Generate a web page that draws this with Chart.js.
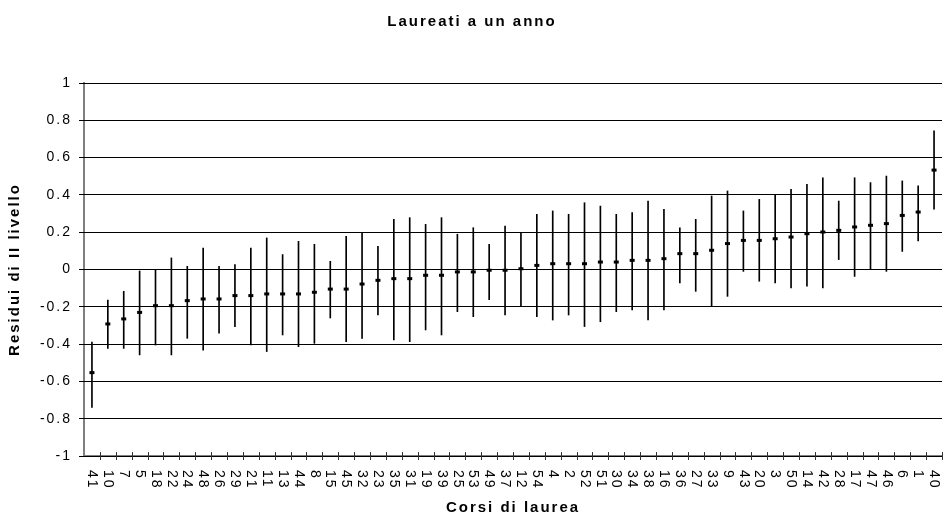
<!DOCTYPE html>
<html>
<head>
<meta charset="utf-8">
<script src="https://cdn.jsdelivr.net/npm/chart.js@4/dist/chart.umd.min.js"></script>
<style>
  body { margin: 0; background: #fff; }
  #wrap { width: 944px; height: 517px; position: relative; }
  #title {
    position: absolute; left: 0; top: 12px; width: 944px;
    text-align: center; font: bold 15px/18px "Liberation Sans", Arial, sans-serif;
    letter-spacing: 2px; color: #000;
  }
</style>
</head>
<body>
<div id="wrap"><canvas id="chart"></canvas><div id="title">Laureati a un anno</div></div>
<script>
// corsi di laurea, ordered by estimated residual
const categories = ["41","10","7","5","18","22","24","48","26","29","21","11","13","44","8","15","45","32",
  "23","35","31","19","39","25","53","49","37","12","54","4","2","52","51","30","34","38",
  "16","36","27","33","9","43","20","3","50","14","42","28","17","47","46","6","1","40"];

// level-2 residuals (point estimates)
const residuals = [-0.553,-0.292,-0.265,-0.230,-0.194,-0.194,-0.167,-0.158,-0.158,-0.140,-0.140,-0.131,-0.131,-0.131,-0.122,-0.105,-0.105,-0.078,
  -0.058,-0.049,-0.049,-0.031,-0.031,-0.013,-0.013,-0.004,-0.004,0.004,0.022,0.031,0.031,0.031,0.040,0.040,0.049,0.049,
  0.058,0.085,0.085,0.103,0.139,0.156,0.156,0.165,0.174,0.192,0.201,0.210,0.228,0.237,0.246,0.290,0.308,0.533];

// interval bounds
const lower = [-0.739,-0.423,-0.423,-0.458,-0.405,-0.458,-0.369,-0.432,-0.342,-0.306,-0.405,-0.440,-0.351,-0.414,-0.396,-0.260,-0.387,-0.369,
  -0.244,-0.378,-0.387,-0.324,-0.351,-0.226,-0.253,-0.162,-0.244,-0.199,-0.253,-0.271,-0.244,-0.306,-0.280,-0.226,-0.217,-0.271,
  -0.217,-0.072,-0.117,-0.199,-0.144,-0.010,-0.063,-0.072,-0.099,-0.090,-0.099,0.053,-0.037,-0.001,-0.010,0.097,0.153,0.323];
const upper = [-0.389,-0.164,-0.117,-0.008,0.000,0.062,0.017,0.115,0.017,0.026,0.115,0.169,0.080,0.151,0.135,0.044,0.178,0.196,
  0.124,0.269,0.278,0.242,0.278,0.189,0.224,0.135,0.233,0.196,0.296,0.314,0.296,0.358,0.340,0.296,0.305,0.367,
  0.322,0.224,0.269,0.394,0.421,0.314,0.376,0.403,0.430,0.457,0.492,0.367,0.492,0.466,0.501,0.475,0.448,0.744];

const yMin = -1, yMax = 1, yStep = 0.2;

const FONT = '"Liberation Sans", Arial, sans-serif';
Chart.defaults.font.family = FONT;
Chart.defaults.color = '#000';

// Excel-like wide text
const spacing = {
  id: 'spacing',
  beforeUpdate(chart) { chart.ctx.letterSpacing = '2px'; },
  beforeDraw(chart) { chart.ctx.letterSpacing = '2px'; }
};

// horizontal grid + left tick marks from the y scale ticks
const yGrid = {
  id: 'yGrid',
  beforeDatasetsDraw(chart) {
    const ys = chart.scales.y;
    const { left, right } = chart.chartArea;
    const ctx = chart.ctx;
    ctx.save();
    ctx.strokeStyle = '#000';
    ctx.lineWidth = 1;
    ctx.beginPath();
    ys.ticks.forEach(t => {
      const y = Math.round(ys.getPixelForValue(t.value) - 0.5) + 0.5;
      ctx.moveTo(left - 5, y);
      ctx.lineTo(right, y);
    });
    ctx.stroke();
    ctx.restore();
  }
};

// category ticks crossing the axis and vertical labels read top-to-bottom
const xLabels = {
  id: 'xLabels',
  afterDraw(chart) {
    const xs = chart.scales.x;
    const ctx = chart.ctx;
    const bottom = chart.chartArea.bottom;
    const n = categories.length;
    ctx.save();
    ctx.strokeStyle = '#333';
    ctx.lineWidth = 1;
    ctx.beginPath();
    for (let i = 1; i <= n; i++) {
      const x = Math.round(xs.left + i * xs.width / n) + 0.5;
      ctx.moveTo(x, bottom - 4);
      ctx.lineTo(x, bottom + 4);
    }
    ctx.stroke();
    ctx.font = '14px ' + FONT;
    ctx.letterSpacing = '2px';
    ctx.fillStyle = '#000';
    ctx.textAlign = 'left';
    ctx.textBaseline = 'middle';
    categories.forEach((c, i) => {
      ctx.save();
      ctx.translate(xs.getPixelForValue(i), bottom + 14);
      ctx.rotate(Math.PI / 2);
      ctx.fillText(c, 0, 0);
      ctx.restore();
    });
    ctx.restore();
  }
};

let chart = new Chart(document.getElementById('chart'), {
  type: 'bar',
  data: {
    labels: categories,
    datasets: [
      {
        type: 'line',
        data: residuals,
        showLine: false,
        pointStyle: 'line',
        pointRadius: 2.5,
        pointBorderWidth: 3,
        borderColor: '#000',
        backgroundColor: '#000',
        order: 0
      },
      {
        data: lower.map((l, i) => [l, upper[i]]),
        backgroundColor: '#000',
        borderWidth: 0,
        barThickness: 1,
        order: 1
      }
    ]
  },
  options: {
    responsive: true,
    maintainAspectRatio: false,
    animation: false,
    layout: { autoPadding: false, padding: { left: 0, right: 2, top: 83, bottom: 0 } },
    plugins: {
      legend: { display: false },
      tooltip: { enabled: false },
      title: { display: false }
    },
    scales: {
      x: {
        type: 'category',
        offset: true,
        grid: { display: false, drawTicks: false },
        border: { display: true, color: '#808080', width: 2 },
        ticks: { display: false },
        title: {
          display: true,
          text: 'Corsi di laurea',
          color: '#000',
          font: { size: 15, weight: 'bold' },
          padding: { top: 0, bottom: 0 }
        },
        afterFit(scale) { scale.height = 61; }
      },
      y: {
        min: yMin,
        max: yMax,
        ticks: {
          stepSize: yStep,
          font: { size: 14 },
          color: '#000',
          padding: 7,
          callback: v => String(Math.round(v * 10) / 10)
        },
        grid: { display: true, drawOnChartArea: true, color: '#000', lineWidth: 1, tickLength: 5, drawTicks: true },
        border: { display: true, color: '#808080', width: 2 },
        title: {
          display: true,
          text: 'Residui di II livello',
          color: '#000',
          font: { size: 15, weight: 'bold' },
          padding: { top: 6, bottom: 0 }
        },
        afterFit(scale) { scale.width = 84; }
      }
    }
  },
  plugins: [spacing, yGrid, xLabels]
});
</script>
</body>
</html>
